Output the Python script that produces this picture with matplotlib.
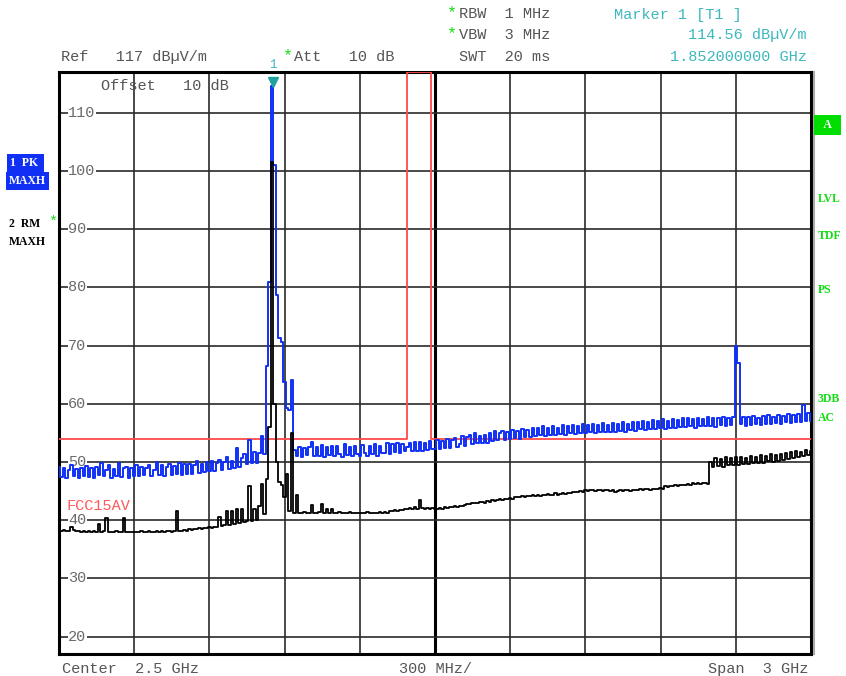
import numpy as np
import matplotlib.pyplot as plt

W, H = 846, 676

f_start = 1.0   # GHz
f_stop = 4.0
n_pts = 301
ref_level = 117
bottom_level = 17

# trace 1, PK / MAXH (blue), dBuV/m, 10 MHz per point
pk_trace = [
    49.2, 47.4, 48.9, 47.3, 48.6, 49.5, 47.6, 48.8, 47.2, 49.0,
    47.5, 49.3, 47.4, 48.9, 47.3, 49.1, 47.8, 49.8, 47.5, 48.7,
    49.4, 47.3, 48.8, 47.6, 49.9, 47.4, 48.9, 49.2, 47.2, 49.0,
    47.6, 49.4, 47.5, 49.1, 47.7, 48.9, 49.5, 47.6, 48.6, 50.0,
    47.8, 49.5, 47.6, 49.2, 49.6, 47.7, 49.3, 47.9, 49.8, 47.8,
    49.6, 48.0, 49.7, 47.9, 49.5, 50.2, 48.1, 49.6, 48.2, 50.0,
    48.5, 50.1, 48.4, 49.9, 50.4, 48.6, 50.0, 50.9, 48.8, 50.2,
    49.0, 52.4, 49.1, 50.6, 51.4, 49.6, 53.8, 49.9, 51.7, 49.8,
    51.6, 54.5, 51.4, 66.5, 81.0, 114.56, 101.0, 78.7, 71.3, 70.6,
    63.7, 59.3, 58.9, 64.1, 52.0, 51.0, 52.6, 50.9, 52.4, 51.2,
    52.5, 53.5, 51.0, 52.6, 51.1, 52.9, 50.9, 52.5, 51.2, 52.8,
    51.0, 52.7, 51.3, 50.9, 53.0, 51.2, 52.5, 51.0, 52.8, 51.4,
    51.1, 52.9, 51.5, 51.0, 52.8, 51.3, 53.1, 51.1, 52.7, 51.5,
    51.5, 53.2, 51.4, 53.0, 51.7, 53.3, 51.5, 53.1, 51.9, 52.6,
    53.2, 51.8, 53.5, 51.9, 53.4, 51.9, 53.3, 52.0, 53.6, 52.2,
    52.3, 53.8, 52.2, 53.6, 52.4, 54.0, 52.4, 53.7, 54.1, 52.6,
    53.0, 54.4, 52.8, 54.2, 54.6, 53.0, 54.9, 53.2, 54.5, 53.3,
    54.7, 53.3, 55.0, 53.6, 55.3, 53.7, 54.9, 55.4, 53.8, 55.1,
    53.9, 55.5, 54.1, 55.4, 54.0, 55.7, 54.3, 55.5, 54.2, 55.8,
    54.4, 55.9, 54.6, 56.1, 54.5, 55.8, 54.7, 56.2, 54.6, 55.9,
    54.8, 56.3, 54.7, 56.1, 54.9, 56.4, 54.8, 56.2, 55.0, 56.5,
    54.9, 56.3, 55.1, 56.6, 55.0, 56.4, 55.2, 56.7, 55.1, 56.4,
    55.2, 56.7, 55.1, 56.5, 55.4, 56.9, 55.2, 56.6, 55.5, 56.8,
    55.4, 56.9, 55.6, 57.1, 55.5, 56.8, 55.7, 57.2, 55.6, 57.0,
    55.8, 57.3, 55.6, 57.1, 55.9, 57.4, 55.8, 57.2, 56.0, 57.5,
    56.0, 57.5, 56.1, 57.4, 55.9, 57.6, 56.2, 57.4, 56.1, 57.7,
    56.2, 57.6, 56.0, 57.5, 56.3, 57.7, 56.1, 57.6, 56.4, 57.8,
    70.0, 67.0, 56.5, 57.8, 56.2, 57.7, 56.4, 57.9, 56.5, 57.6,
    56.4, 57.9, 56.6, 58.0, 56.5, 57.8, 56.7, 58.1, 56.6, 57.9,
    56.8, 58.2, 56.7, 58.1, 56.9, 58.3, 56.8, 59.8, 57.0, 58.4,
    57.1,
]

# trace 2, RM / MAXH (black)
rm_trace = [
    38.4, 38.2, 38.3, 38.1, 38.2, 38.9, 38.3, 38.1, 38.2, 38.0,
    38.2, 38.0, 38.1, 37.9, 38.1, 38.0, 39.3, 38.0, 38.1, 40.4,
    37.9, 38.0, 37.9, 38.1, 37.9, 38.0, 40.4, 37.9, 38.0, 37.9,
    38.0, 37.9, 38.0, 38.1, 37.9, 38.0, 38.1, 38.0, 37.9, 38.1,
    38.0, 38.1, 38.0, 38.2, 38.1, 38.0, 38.2, 41.6, 38.1, 38.2,
    38.3, 38.2, 38.4, 38.3, 38.5, 38.4, 38.6, 38.5, 38.7, 38.6,
    38.8, 38.7, 38.9, 38.8, 40.5, 39.0, 39.1, 41.6, 39.2, 41.6,
    39.4, 41.9, 39.5, 41.9, 39.7, 39.8, 45.8, 39.9, 42.0, 40.0,
    42.5, 46.2, 41.0, 47.0, 56.0, 101.5, 60.0, 50.0, 46.5, 46.0,
    44.0, 48.0, 41.5, 55.0, 41.2, 44.3, 41.3, 41.2, 41.4, 41.3,
    41.2, 42.6, 41.3, 41.2, 41.4, 42.8, 41.3, 41.9, 41.2, 41.9,
    41.3, 41.2, 41.4, 41.3, 41.2, 41.3, 41.4, 41.3, 41.2, 41.3,
    41.3, 41.2, 41.3, 41.4, 41.3, 41.2, 41.3, 41.3, 41.4, 41.3,
    41.4, 41.3, 41.5, 41.6, 41.7, 41.6, 41.8, 41.7, 41.9, 42.0,
    42.1, 41.9, 42.2, 42.0, 43.5, 42.1, 41.9, 42.1, 42.0, 42.1,
    41.9, 42.0, 42.1, 41.9, 42.2, 42.1, 42.3, 42.2, 42.4, 42.3,
    42.5, 42.4, 42.6, 42.8, 42.7, 42.9, 43.0, 42.9, 43.1, 43.2,
    43.0, 43.3, 43.2, 43.4, 43.3, 43.5, 43.6, 43.5, 43.7, 43.6,
    43.8, 43.7, 43.9, 44.0, 43.9, 44.1, 44.0, 44.2, 44.1, 44.3,
    44.2, 44.3, 44.2, 44.4, 44.3, 44.5, 44.3, 44.4, 44.6, 44.4,
    44.5, 44.6, 44.5, 44.7, 44.6, 44.8, 44.9, 44.8, 45.0, 44.9,
    45.1, 45.0, 45.2, 45.1, 45.0, 45.2, 45.1, 45.0, 45.1, 45.2,
    45.0, 45.1, 44.9, 45.0, 45.1, 45.0, 45.2, 45.1, 45.0, 45.1,
    45.2, 45.1, 45.3, 45.2, 45.4, 45.3, 45.2, 45.4, 45.3, 45.4,
    45.5, 45.4, 45.8, 45.7, 45.9, 45.8, 46.0, 45.9, 46.1, 46.0,
    46.1, 46.2, 46.1, 46.3, 46.2, 46.3, 46.2, 46.4, 46.3, 46.2,
    50.0, 49.2, 50.7, 49.3, 50.5, 49.2, 50.8, 49.5, 50.6, 49.4,
    50.8, 49.5, 50.9, 49.6, 50.7, 49.7, 51.0, 49.8, 50.9, 49.9,
    51.2, 49.9, 51.1, 50.1, 51.3, 50.0, 51.2, 50.2, 51.4, 50.3,
    51.6, 50.5, 51.7, 50.6, 51.8, 50.8, 51.7, 51.0, 52.1, 51.2,
    51.9,
]

# FCC15AV limit line
limit_freq = [1.0, 2.39, 2.39, 2.4835, 2.4835, 4.0]
limit_level = [54, 54, 117, 117, 54, 54]

marker_freq = 1.852
marker_level = 114.56

grid_freq = [1.3, 1.6, 1.9, 2.2, 2.5, 2.8, 3.1, 3.4, 3.7]
grid_level = [20, 30, 40, 50, 60, 70, 80, 90, 100, 110]

freq = np.linspace(f_start, f_stop, n_pts)

mono = 'Liberation Mono'
serif = 'Liberation Serif'
grey = '#555555'
teal = '#3cb8be'
green = '#11dd11'
blue = '#1030f5'

fig = plt.figure(figsize=(W / 100, H / 100), dpi=100)
ax = fig.add_axes([59 / W, 22 / H, 752 / W, 582 / H])
ax.set_xlim(f_start, f_stop)
ax.set_ylim(bottom_level, ref_level)
ax.set_xticks([])
ax.set_yticks([])
for s in ax.spines.values():
    s.set_linewidth(2.2)
    s.set_color('black')

for g in grid_freq:
    if g == 2.5:
        ax.axvline(g, color='black', lw=2.2, zorder=1)
    else:
        ax.axvline(g, color='#2a2a2a', lw=1.2, zorder=1)
for g in grid_level:
    ax.axhline(g, color='#2a2a2a', lw=1.2, zorder=1)
    ax.text(0.012, g, str(g), transform=ax.get_yaxis_transform(),
            ha='left', va='center', family=mono, fontsize=11, color='#6a6a6a',
            bbox=dict(facecolor='white', edgecolor='none', pad=0.3), zorder=2)

ax.plot(limit_freq, limit_level, color='#ff4a4a', lw=1.3, zorder=3)
ax.plot(freq, pk_trace, color=blue, lw=1.4, drawstyle='steps-mid', zorder=4)
ax.plot(freq, rm_trace, color='black', lw=1.3, drawstyle='steps-mid', zorder=5)

ax.plot([marker_freq], [marker_level + 0.8], marker='v', color='#20a0a0',
        markersize=7, zorder=6, clip_on=False)
ax.text(marker_freq, ref_level + 0.1, '1', ha='center', va='bottom', color=teal,
        family=mono, fontsize=9, clip_on=False)

ax.text(1.03, 41.2, 'FCC15AV', color='#ff5a5a', family=mono, fontsize=11,
        ha='left', va='bottom', zorder=6)

# frame line outside on the right
fig.add_artist(plt.Line2D([813.5 / W, 813.5 / W], [22 / H, 604 / H],
                          color='#aaaaaa', lw=1.5))


def txt(x, y, s, **kw):
    kw.setdefault('family', mono)
    kw.setdefault('fontsize', 11)
    kw.setdefault('color', grey)
    kw.setdefault('va', 'center')
    fig.text(x / W, 1 - y / H, s, **kw)


txt(61, 57, 'Ref   117 dB\u00b5V/m')
txt(283, 56, '*', color=green, fontsize=12)
txt(294, 57, 'Att   10 dB')
txt(101, 86, 'Offset   10 dB')
txt(447, 13, '*', color=green, fontsize=12)
txt(459, 14, 'RBW  1 MHz')
txt(447, 34, '*', color=green, fontsize=12)
txt(459, 35, 'VBW  3 MHz')
txt(459, 57, 'SWT  20 ms')
txt(614, 15, 'Marker 1 [T1 ]', color=teal)
txt(807, 35, '114.56 dB\u00b5V/m', color=teal, ha='right')
txt(807, 57, '1.852000000 GHz', color=teal, ha='right')

txt(62, 669, 'Center  2.5 GHz')
txt(435, 669, '300 MHz/', ha='center')
txt(808, 669, 'Span  3 GHz', ha='right')

lab = dict(family=serif, fontsize=8.5, weight='bold')
txt(10, 163, '1  PK ', color='white',
    bbox=dict(facecolor=blue, edgecolor='none', pad=2.4), **lab)
txt(9, 181, 'MAXH', color='white',
    bbox=dict(facecolor=blue, edgecolor='none', pad=2.4), **lab)
txt(9, 224, '2  RM', color='black', **lab)
txt(48, 222, '*', color=green, fontsize=11)
txt(9, 242, 'MAXH', color='black', **lab)

txt(818, 125, '  A  ', color='white',
    bbox=dict(facecolor='#00dd00', edgecolor='none', pad=3.0), **lab)
for label, yy in [('LVL', 199), ('TDF', 236), ('PS', 290), ('3DB', 399), ('AC', 418)]:
    txt(818, yy, label, color='#11dd11', **lab)

fig.savefig('out.png', dpi=100)
